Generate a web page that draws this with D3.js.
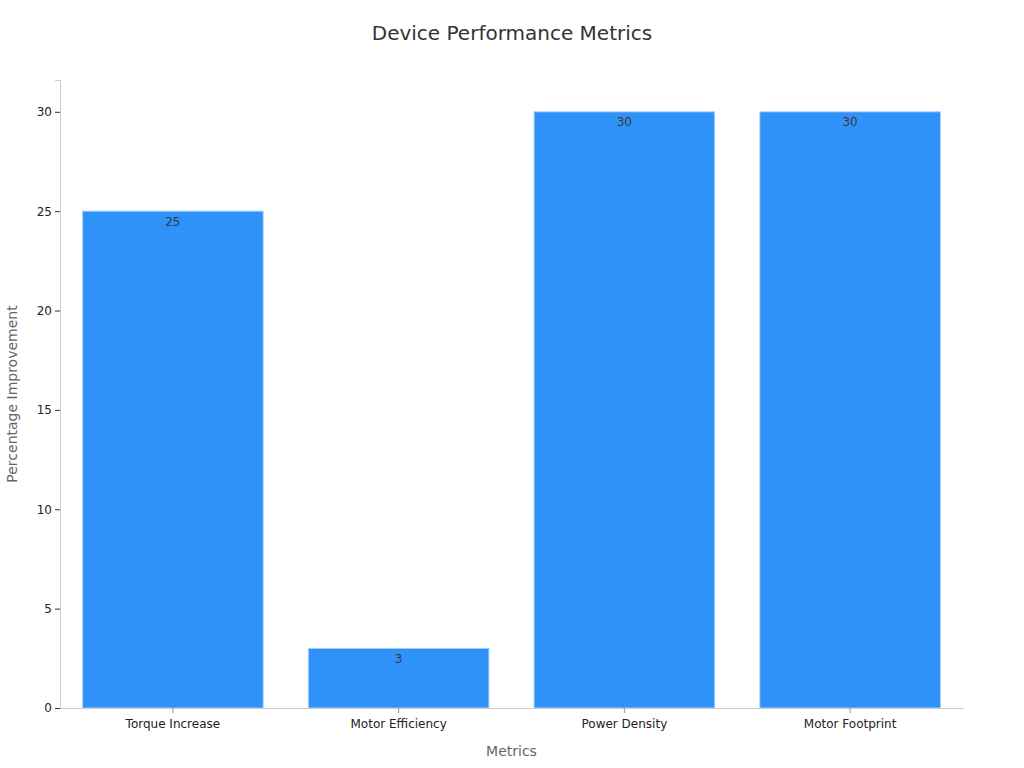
<!DOCTYPE html>
<html>
<head>
<meta charset="utf-8">
<script src="https://cdn.jsdelivr.net/npm/d3@7/dist/d3.min.js"></script>
<style>
  body { margin: 0; background: #fff; }
  text { font-family: "DejaVu Sans", sans-serif; }
</style>
</head>
<body>
<div id="chart"></div>
<script>
var categories = ['Torque Increase', 'Motor Efficiency', 'Power Density', 'Motor Footprint'];
var values = [25, 3, 30, 30];
var yTicks = [0, 5, 10, 15, 20, 25, 30];

var width = 1024, height = 768;
var margin = { top: 80, right: 61, bottom: 60, left: 60 };

var svg = d3.select('#chart').append('svg')
  .attr('width', width)
  .attr('height', height);

var x = d3.scaleBand()
  .domain(categories)
  .range([margin.left, width - margin.right])
  .paddingInner(0.2)
  .paddingOuter(0.1);

var y = d3.scaleLinear()
  .domain([0, 31.6])
  .range([height - margin.bottom, margin.top]);

// title
svg.append('text')
  .attr('x', width / 2)
  .attr('y', 40)
  .attr('text-anchor', 'middle')
  .style('font-size', '20px')
  .style('fill', '#333')
  .text('Device Performance Metrics');

// bars
svg.append('g').selectAll('rect')
  .data(values)
  .enter().append('rect')
    .attr('x', function(d, i) { return x(categories[i]); })
    .attr('y', function(d) { return y(d); })
    .attr('width', x.bandwidth())
    .attr('height', function(d) { return y(0) - y(d); })
    .style('fill', '#2f92f9')
    .style('stroke', '#a9d0f5')
    .style('stroke-width', 1);

// value labels
svg.append('g').selectAll('text')
  .data(values)
  .enter().append('text')
    .attr('x', function(d, i) { return x(categories[i]) + x.bandwidth() / 2; })
    .attr('y', function(d) { return y(d) + 14.5; })
    .attr('text-anchor', 'middle')
    .style('font-size', '12px')
    .style('fill', '#3a3a3a')
    .text(function(d) { return d; });

// y axis
var yAxis = svg.append('g')
  .attr('transform', 'translate(' + margin.left + ',0)')
  .call(d3.axisLeft(y).tickValues(yTicks).tickSize(5).tickPadding(3));
yAxis.select('.domain').attr('stroke', '#ccc');
yAxis.selectAll('.tick line').attr('stroke', '#333');
yAxis.selectAll('.tick text')
  .style('font-size', '12px')
  .style('fill', '#222')
  .style('font-family', '"DejaVu Sans", sans-serif');

// x axis
var xAxis = svg.append('g')
  .attr('transform', 'translate(0,' + (height - margin.bottom) + ')')
  .call(d3.axisBottom(x).tickSize(5).tickSizeOuter(0).tickPadding(6));
xAxis.select('.domain').attr('stroke', '#ccc');
xAxis.selectAll('.tick line').attr('stroke', '#999');
xAxis.selectAll('.tick text')
  .style('font-size', '12px')
  .style('fill', '#222')
  .style('font-family', '"DejaVu Sans", sans-serif');

// axis titles
svg.append('text')
  .attr('x', (margin.left + width - margin.right) / 2)
  .attr('y', 756)
  .attr('text-anchor', 'middle')
  .style('font-size', '14px')
  .style('fill', '#666')
  .text('Metrics');

svg.append('text')
  .attr('transform', 'translate(17,' + ((margin.top + height - margin.bottom) / 2) + ') rotate(-90)')
  .attr('text-anchor', 'middle')
  .style('font-size', '14px')
  .style('fill', '#666')
  .text('Percentage Improvement');
</script>
</body>
</html>
